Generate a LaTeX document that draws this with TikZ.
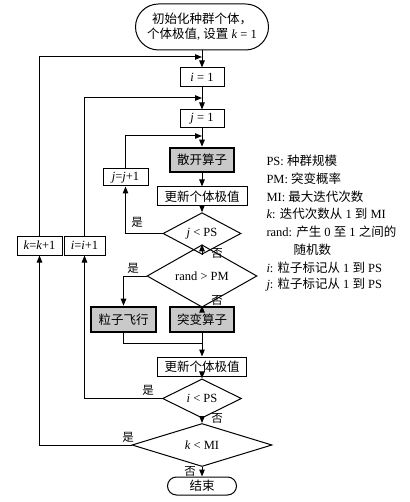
\documentclass[tikz,border=0pt]{standalone}
\usepackage{fontspec}
\setmainfont{Liberation Serif}
\newfontfamily\cjk{Noto Sans CJK SC}
\usetikzlibrary{shapes.geometric,arrows.meta}
\begin{document}
\begin{tikzpicture}[x=1pt,y=-1pt,
  font=\fontsize{12.5}{14}\selectfont,
  line width=1pt,
  arr/.style={-{Triangle[length=7pt,width=5.5pt]}},
  proc/.style={draw, rectangle, inner sep=0pt, line width=1pt},
  op/.style={proc, fill=gray!42, line width=2.6pt},
  dec/.style={draw, diamond, inner sep=0pt, line width=1pt},
  term/.style={draw, rectangle, inner sep=0pt, line width=1pt},
  lab/.style={font=\cjk\fontsize{11.5}{13}\selectfont, inner sep=0pt},
  leg/.style={anchor=west, inner sep=0pt}]
\useasboundingbox (0,0) rectangle (409,502);

% nodes
\node[term, rounded corners=23pt, minimum width=133pt, minimum height=46pt, align=center] (start) at (202,27)
  {{\cjk 初始化种群个体，}\\[1pt]{\cjk 个体极值}, {\cjk 设置} \textit{k} = 1};
\node[proc, minimum width=44pt, minimum height=19pt] (i1) at (202,77.5) {\textit{i} = 1};
\node[proc, minimum width=44pt, minimum height=18pt] (j1) at (202,119) {\textit{j} = 1};
\node[op, minimum width=64pt, minimum height=24pt] (sk) at (202,160) {\cjk 散开算子};
\node[proc, minimum width=45pt, minimum height=17pt] (jj) at (125.5,177.5) {\textit{j}=\textit{j}+1};
\node[proc, minimum width=90pt, minimum height=19pt] (up1) at (202,196.5) {\cjk 更新个体极值};
\node[dec, minimum width=78pt, minimum height=23pt] (d1) at (202,233.5) {\textit{j} < PS};
\node[dec, minimum width=110pt, minimum height=34pt] (d2) at (202,276) {rand > PM};
\node[proc, minimum width=45pt, minimum height=19pt] (kk) at (39.5,245.5) {\textit{k}=\textit{k}+1};
\node[proc, minimum width=41pt, minimum height=19pt] (ii) at (84.5,245.5) {\textit{i}=\textit{i}+1};
\node[op, minimum width=65pt, minimum height=25pt] (fly) at (123.5,319.5) {\cjk 粒子飞行};
\node[op, minimum width=64pt, minimum height=25pt] (mut) at (202,319.5) {\cjk 突变算子};
\node[proc, minimum width=89pt, minimum height=19pt] (up2) at (202,366.5) {\cjk 更新个体极值};
\node[dec, minimum width=79pt, minimum height=23pt] (d3) at (202,398.5) {\textit{i} < PS};
\node[dec, minimum width=140pt, minimum height=36pt] (d4) at (202,445) {\textit{k} < MI};
\node[term, rounded corners=9pt, minimum width=69pt, minimum height=18pt] (end) at (202,486) {\cjk 结束};

\coordinate (ein) at (202,57);
\coordinate (iin) at (202,98);
\coordinate (jin) at (202,136);
\coordinate (mrg) at (202,343);

% main flow
\draw[arr] (start) -- (i1);
\draw[arr] (i1) -- (j1);
\draw[arr] (j1) -- (sk);
\draw[arr] (sk) -- (up1);
\draw[arr] (up1) -- (d1);
\draw[arr] (d1) -- (d2);
\draw[arr] (d2) -- (mut);
\draw[arr] (d2.west) -| (fly.north);
\draw (fly.south) |- (mrg);
\draw[arr] (mut) -- (up2);
\draw[arr] (up2) -- (d3);
\draw[arr] (d3) -- (d4);
\draw[arr] (d4) -- (end);

% loops
\draw[arr] (d1.west) -| (jj.south);
\draw[arr] (jj.north) |- (jin);
\draw[arr] (d3.west) -| (ii.south);
\draw[arr] (ii.north) |- (iin);
\draw[arr] (d4.west) -| (kk.south);
\draw[arr] (kk.north) |- (ein);

% yes/no labels
\node[lab] (y1) at (137,222) {是};
\node[lab] (n1) at (217,253) {否};
\node[lab] (y2) at (133,268) {是};
\node[lab] (n2) at (217,300) {否};
\node[lab] (y3) at (148,390) {是};
\node[lab] (n3) at (217,418) {否};
\node[lab] (y4) at (128,437) {是};
\node[lab] (n4) at (190,471) {否};

% legend
\node[leg] (l1) at (266,161) {PS: {\cjk 种群规模}};
\node[leg] (l2) at (266,178.7) {PM: {\cjk 突变概率}};
\node[leg] (l3) at (266,196.4) {MI: {\cjk 最大迭代次数}};
\node[leg] (l4) at (266,214.2) {\textit{k}: {\cjk 迭代次数从} 1 {\cjk 到} MI};
\node[leg] (l5) at (266,231.9) {rand: {\cjk 产生} 0 {\cjk 至} 1 {\cjk 之间的}};
\node[leg] (l6) at (293,249.6) {\cjk 随机数};
\node[leg] (l7) at (266,267.3) {\textit{i}: {\cjk 粒子标记从} 1 {\cjk 到} PS};
\node[leg] (l8) at (266,285) {\textit{j}: {\cjk 粒子标记从} 1 {\cjk 到} PS};
\end{tikzpicture}
\end{document}
